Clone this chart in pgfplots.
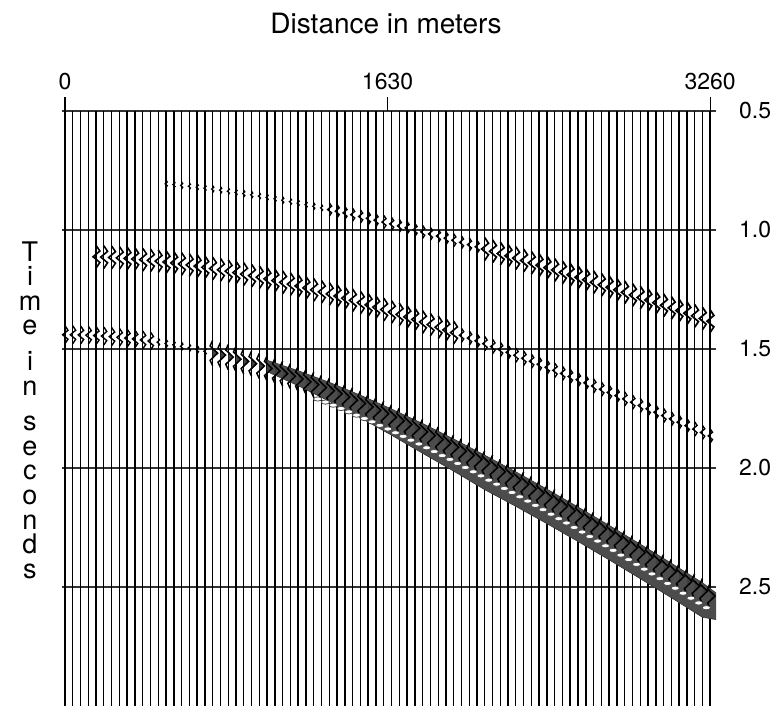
\documentclass[border=0pt]{standalone}
\usepackage{pgfplots}
\pgfplotsset{compat=1.18}
\usepackage{fontspec}
\setmainfont{TeX Gyre Heros}

% double-lobed wiggle (stroke only)
\pgfdeclareplotmark{wig}{%
  \pgfpathmoveto{\pgfqpoint{0pt}{3\pgfplotmarksize}}%
  \pgfpathlineto{\pgfqpoint{\pgfplotmarksize}{1.5\pgfplotmarksize}}%
  \pgfpathlineto{\pgfqpoint{-0.8\pgfplotmarksize}{0pt}}%
  \pgfpathlineto{\pgfqpoint{\pgfplotmarksize}{-1.5\pgfplotmarksize}}%
  \pgfpathlineto{\pgfqpoint{0pt}{-3\pgfplotmarksize}}%
  \pgfusepathqstroke}
% single-lobed wiggle with dark lobe
\pgfdeclareplotmark{wigf}{%
  \pgfpathmoveto{\pgfqpoint{0pt}{1.4\pgfplotmarksize}}%
  \pgfpathlineto{\pgfqpoint{1.2\pgfplotmarksize}{0pt}}%
  \pgfpathlineto{\pgfqpoint{0pt}{-1.4\pgfplotmarksize}}%
  \pgfpathclose
  \pgfusepathqfill
  \pgfpathmoveto{\pgfqpoint{0pt}{3\pgfplotmarksize}}%
  \pgfpathlineto{\pgfqpoint{-0.6\pgfplotmarksize}{1.7\pgfplotmarksize}}%
  \pgfpathlineto{\pgfqpoint{1.2\pgfplotmarksize}{0pt}}%
  \pgfpathlineto{\pgfqpoint{-0.6\pgfplotmarksize}{-1.7\pgfplotmarksize}}%
  \pgfpathlineto{\pgfqpoint{0pt}{-3\pgfplotmarksize}}%
  \pgfusepathqstroke}
\pgfdeclareplotmark{wdash}{%
  \pgfpathellipse{\pgfpointorigin}{\pgfqpoint{\pgfplotmarksize}{0pt}}{\pgfqpoint{0pt}{0.5\pgfplotmarksize}}%
  \pgfusepathqfillstroke}

\begin{document}
\begin{tikzpicture}
\useasboundingbox (-32.5pt,0pt) rectangle (353.5pt,353pt);
\begin{axis}[
  at={(-1.484pt,0pt)}, anchor=south west,
  scale only axis, width=327pt, height=297.5pt,
  xmin=-15, xmax=3290, ymin=0.5, ymax=3.0, y dir=reverse,
  axis x line*=top, axis y line*=right,
  axis line style={draw=none},
  xtick={0,1630,3260}, ytick={0.5,1.0,1.5,2.0,2.5},
  tick align=outside,
  xtick style={black, line width=0.6pt},
  ytick style={draw=none},
  major tick length=7pt,
  ymajorgrids, grid style={black!80, line width=0.6pt},
  /pgf/number format/assume math mode=true,
  xticklabel style={font=\fontsize{11.5}{13}\selectfont, /pgf/number format/1000 sep={}},
  yticklabel style={font=\fontsize{11.5}{13}\selectfont, anchor=west, xshift=1pt,
     /pgf/number format/.cd, fixed, fixed zerofill, precision=1},
  clip=true,
]
% traces
\addplot[ycomb, black, line width=0.7pt, mark=none] coordinates {
(0,3) (39,3) (79,3) (118,3) (157,3) (196,3) (236,3) (275,3) (314,3) (353,3)
(393,3) (432,3) (471,3) (511,3) (550,3) (589,3) (628,3) (668,3) (707,3) (746,3)
(786,3) (825,3) (864,3) (903,3) (943,3) (982,3) (1021,3) (1061,3) (1100,3) (1139,3)
(1178,3) (1218,3) (1257,3) (1296,3) (1336,3) (1375,3) (1414,3) (1453,3) (1493,3) (1532,3)
(1571,3) (1611,3) (1650,3) (1689,3) (1728,3) (1768,3) (1807,3) (1846,3) (1886,3) (1925,3)
(1964,3) (2003,3) (2043,3) (2082,3) (2121,3) (2161,3) (2200,3) (2239,3) (2278,3) (2318,3)
(2357,3) (2396,3) (2436,3) (2475,3) (2514,3) (2553,3) (2593,3) (2632,3) (2671,3) (2711,3)
(2750,3) (2789,3) (2828,3) (2868,3) (2907,3) (2946,3) (2986,3) (3025,3) (3064,3) (3103,3)
(3143,3) (3182,3) (3221,3) (3260,3)};
% event B faint
\addplot[only marks, mark=wig, mark size=0.6pt, mark options={line width=0.6pt}] table {
x t
511 0.8061
550 0.8092
589 0.8126
628 0.8161
668 0.8200
707 0.8240
746 0.8281
786 0.8326
825 0.8372
864 0.8420
903 0.8470
943 0.8523
982 0.8576
1021 0.8631
1061 0.8690
1100 0.8749
1139 0.8809
1178 0.8872
1218 0.8937
1257 0.9003
1296 0.9070
};
% event B medium
\addplot[only marks, mark=wig, mark size=1.1pt, mark options={line width=0.7pt}] table {
x t
1336 0.9140
1375 0.9210
1414 0.9282
1453 0.9355
1493 0.9432
1532 0.9508
1571 0.9585
1611 0.9665
1650 0.9745
1689 0.9826
1728 0.9909
1768 0.9994
1807 1.0079
1846 1.0164
1886 1.0253
1925 1.0342
1964 1.0430
2003 1.0520
2043 1.0614
2082 1.0706
};
% event B strong
\addplot[only marks, mark=wig, mark size=1.9pt, mark options={line width=0.85pt}] table {
x t
2121 1.0798
2161 1.0895
2200 1.0989
2239 1.1085
2278 1.1181
2318 1.1281
2357 1.1379
2396 1.1478
2436 1.1580
2475 1.1680
2514 1.1781
2553 1.1883
2593 1.1988
2632 1.2091
2671 1.2195
2711 1.2302
2750 1.2407
2789 1.2513
2828 1.2619
2868 1.2728
2907 1.2836
2946 1.2943
2986 1.3055
3025 1.3164
3064 1.3273
3103 1.3383
3143 1.3496
3182 1.3607
3221 1.3718
3260 1.3830
};
% event A strong
\addplot[only marks, mark=wig, mark size=1.9pt, mark options={line width=0.8pt}] table {
x t
157 1.1124
196 1.1137
236 1.1153
275 1.1172
314 1.1193
353 1.1218
393 1.1246
432 1.1276
471 1.1309
511 1.1346
550 1.1384
589 1.1426
628 1.1469
668 1.1517
707 1.1566
746 1.1618
786 1.1673
825 1.1730
864 1.1789
903 1.1851
943 1.1917
982 1.1983
1021 1.2052
1061 1.2125
1100 1.2198
1139 1.2273
1178 1.2351
1218 1.2433
1257 1.2514
1296 1.2598
1336 1.2686
1375 1.2774
1414 1.2864
1453 1.2955
1493 1.3051
1532 1.3146
1571 1.3243
1611 1.3344
1650 1.3445
1689 1.3547
1728 1.3650
1768 1.3758
1807 1.3865
1846 1.3973
1886 1.4085
1925 1.4197
1964 1.4309
};
% event A weak
\addplot[only marks, mark=wig, mark size=1.2pt, mark options={line width=0.7pt}] table {
x t
2003 1.4423
2043 1.4541
2082 1.4657
2121 1.4775
2161 1.4897
2200 1.5017
2239 1.5139
2278 1.5261
2318 1.5388
2357 1.5513
2396 1.5639
2436 1.5769
2475 1.5897
2514 1.6025
2553 1.6155
2593 1.6289
2632 1.6421
2671 1.6553
2711 1.6690
2750 1.6825
2789 1.6960
2828 1.7096
2868 1.7236
2907 1.7374
2946 1.7512
2986 1.7655
3025 1.7795
3064 1.7935
3103 1.8076
3143 1.8222
3182 1.8364
3221 1.8507
3260 1.8651
};
% event C near offsets
\addplot[only marks, mark=wig, mark size=1.5pt, mark options={line width=0.7pt}] table {
x t
0 1.4400
39 1.4402
79 1.4409
118 1.4420
157 1.4435
196 1.4455
236 1.4479
275 1.4507
314 1.4540
353 1.4577
393 1.4619
432 1.4664
};
\addplot[only marks, mark=wig, mark size=0.7pt, mark options={line width=0.6pt}] table {
x t
471 1.4713
511 1.4768
550 1.4825
589 1.4887
628 1.4952
668 1.5023
707 1.5096
};
% event C strong
\addplot[only marks, mark=wigf, mark size=2.1pt, mark options={line width=0.75pt, fill=black!75}] table {
x t
746 1.5173
786 1.5256
825 1.5340
864 1.5428
903 1.5520
943 1.5617
982 1.5716
1021 1.5818
1061 1.5925
1100 1.6034
1139 1.6145
1178 1.6260
1218 1.6380
1257 1.6501
1296 1.6625
1336 1.6754
1375 1.6883
1414 1.7015
1453 1.7150
1493 1.7290
1532 1.7430
1571 1.7572
1611 1.7720
1650 1.7867
1689 1.8016
1728 1.8168
1768 1.8325
1807 1.8481
1846 1.8639
1886 1.8802
1925 1.8964
1964 1.9128
2003 1.9293
2043 1.9465
2082 1.9634
2121 1.9805
2161 1.9981
2200 2.0155
2239 2.0331
2278 2.0508
2318 2.0692
2357 2.0872
2396 2.1054
2436 2.1242
2475 2.1426
2514 2.1612
2553 2.1799
2593 2.1992
2632 2.2182
2671 2.2372
2711 2.2569
2750 2.2762
2789 2.2956
2828 2.3152
2868 2.3353
2907 2.3550
2946 2.3748
2986 2.3953
3025 2.4153
3064 2.4354
3103 2.4556
3143 2.4765
3182 2.4968
3221 2.5173
3260 2.5379
};
% dark band
\addplot[fill=black!70, draw=black!80, line width=0.3pt, mark=none] coordinates {
(1021,1.547) (1178,1.591) (1336,1.640) (1493,1.694) (1650,1.752) (1807,1.813)
(1964,1.878) (2121,1.946) (2278,2.016) (2436,2.089) (2593,2.164) (2750,2.241)
(2907,2.320) (3064,2.400) (3221,2.482) (3330,2.55) (3390,2.585)
(3310,2.640) (3221,2.627) (3064,2.545) (2907,2.465) (2750,2.386) (2593,2.309)
(2436,2.234) (2278,2.161) (2121,2.091) (1964,2.013) (1807,1.938) (1650,1.862)
(1493,1.789) (1336,1.720) (1178,1.654) (1021,1.595)} -- cycle;
% white dashes along the lower side of the band
\addplot[only marks, mark=wdash, mark size=2.1pt, mark options={fill=white, draw=black!70, line width=0.4pt}] table {
x t
1277 1.710
1316 1.723
1356 1.736
1395 1.750
1434 1.764
1473 1.778
1513 1.792
1552 1.806
1591 1.821
1631 1.836
1670 1.852
1709 1.867
1748 1.883
1788 1.899
1827 1.915
1866 1.931
1906 1.948
1945 1.964
1984 1.981
2023 1.998
2063 2.016
2102 2.033
2141 2.051
2181 2.068
2220 2.086
2259 2.103
2298 2.121
2338 2.139
2377 2.157
2416 2.175
2456 2.194
2495 2.213
2534 2.231
2573 2.250
2613 2.269
2652 2.288
2691 2.307
2731 2.327
2770 2.346
2809 2.366
2848 2.385
2888 2.405
2927 2.425
2966 2.445
3006 2.465
3045 2.485
3084 2.505
3123 2.526
3163 2.547
3202 2.567
3241 2.587
};
\end{axis}
\node[font=\fontsize{14}{17}\selectfont] at (160.5pt,341pt) {Distance in meters};
\node[align=center, font=\fontsize{13.5}{12.3}\selectfont] at (-17.5pt,148pt)
  {T\\i\\m\\e\\[5.5pt]i\\n\\[5.5pt]s\\e\\c\\o\\n\\d\\s};
\end{tikzpicture}
\end{document}
